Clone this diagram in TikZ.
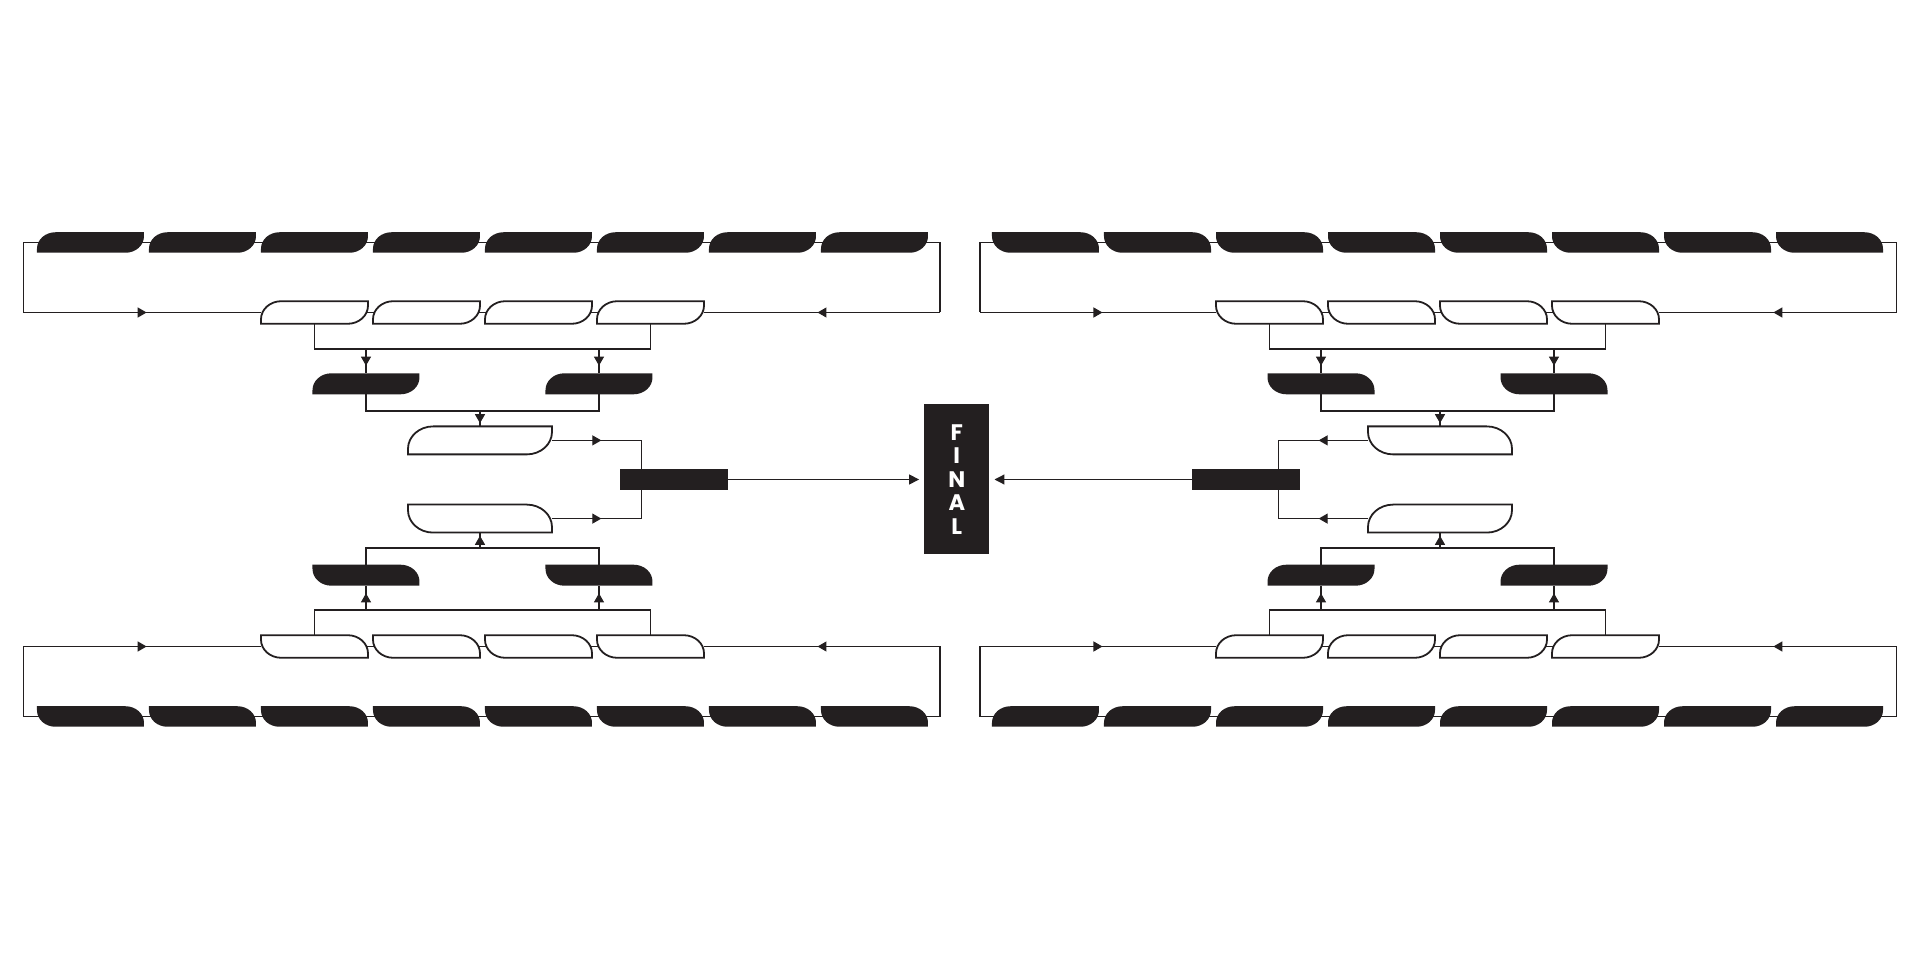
\documentclass[tikz,border=0pt]{standalone}
\usepackage{fontspec}
\newfontfamily\finalfont{Poppins}
\usetikzlibrary{arrows.meta, decorations.markings}

\definecolor{ink}{HTML}{231F20}

\tikzset{
  slot/.style={inner sep=0pt, outer sep=0pt, transform shape},
  link/.style={draw=ink, line width=1.2pt},
  midarrow/.style={postaction={decorate}, decoration={markings,
    mark=at position 0.5 with {\arrow[xshift=4.5pt]{Triangle[length=9pt, width=10pt]}}}},
  dark/.style={fill=ink},
  light/.style={fill=white, draw=ink, line width=1.8pt},
}

% slanted tab drawn over an empty named node: #1 node, #2 height, #3 style
\newcommand{\drawtab}[3]{%
  \path[#3] (#1.south west) -- ++(0,0.2*#2)
    arc[start angle=180, end angle=90, x radius=0.9*#2, y radius=0.8*#2]
    -- (#1.north east) -- ++(0,-0.2*#2)
    arc[start angle=0, end angle=-90, x radius=0.9*#2, y radius=0.8*#2] -- cycle;
}

\begin{document}
\begin{tikzpicture}[x=1pt, y=1pt]
  \useasboundingbox (-960,-480.5) rectangle (960,479.5);

  \node[fill=ink, text=white, minimum width=65pt, minimum height=150pt, inner sep=0pt,
        align=center, font=\finalfont\bfseries\fontsize{22.5}{23.6}\selectfont]
        (final) at (-3.2,0) {F\\I\\N\\A\\L};

  \foreach \sx/\side in {1/L,-1/R} {
    \foreach \sy/\half in {1/T,-1/B} {
      \def\q{\side\half}
      \begin{scope}[xscale=\sx, yscale=\sy]
        % rounds, from the outside in
        \foreach \i in {1,...,8} {
          \node[slot, minimum width=107, minimum height=20.5] (\q A\i) at ({-869.5+112*(\i-1)},237) {};
        }
        \foreach \i in {1,...,4} {
          \node[slot, minimum width=107, minimum height=22.6] (\q B\i) at ({-645.5+112*(\i-1)},167) {};
        }
        \node[slot, minimum width=107, minimum height=21] (\q C1) at (-594,95.7) {};
        \node[slot, minimum width=107, minimum height=21] (\q C2) at (-361,95.7) {};
        \node[slot, minimum width=144, minimum height=28] (\q D) at (-480,39.1) {};

        \coordinate (\q lt) at (-936.7,237);
        \coordinate (\q rt) at (-20,237);
        \coordinate (\q lb) at (-936.7,167);
        \coordinate (\q rb) at (-20,167);
        \coordinate (\q J1) at (-480,130.5);
        \coordinate (\q J2) at (-480,68.5);
        \coordinate (\q K) at (-318.3,39.1);

        % connectors
        \draw[link] (\q lb) -- (\q lt) -- (\q rt) -- (\q rb);
        \draw[link, midarrow] (\q lb) -- (\q B1.west);
        \draw[link, midarrow] (\q rb) -- (\q B4.east);
        \draw[link] (\q B1.center) -- (\q B4.center);
        \draw[link] (\q B1.center) |- (\q J1) -| (\q B4.center);
        \draw[link, midarrow] (\q C1 |- \q J1) -- (\q C1.north);
        \draw[link, midarrow] (\q C2 |- \q J1) -- (\q C2.north);
        \draw[link] (\q C1.center) |- (\q J2) -| (\q C2.center);
        \draw[link, midarrow] (\q J2) -- (\q D.north);
        \draw[link, midarrow] (\q D.east) -- (\q K);

        % tabs
        \foreach \i in {1,...,8} {
          \drawtab{\q A\i}{20.5}{dark}
        }
        \foreach \i in {1,...,4} {
          \drawtab{\q B\i}{22.6}{light}
        }
        \drawtab{\q C1}{21}{dark}
        \drawtab{\q C2}{21}{dark}
        \drawtab{\q D}{28}{light}
      \end{scope}
    }
    \begin{scope}[xscale=\sx]
      \draw[link] (\side TK) -- (\side BK);
      \node[slot, fill=ink, minimum width=108.5, minimum height=21.5] (\side sf) at (-285.75,0) {};
    \end{scope}
    \draw[link, -{Triangle[length=10pt, width=10pt]}, shorten >=5pt] (\side sf) -- (final);
  }
\end{tikzpicture}
\end{document}
